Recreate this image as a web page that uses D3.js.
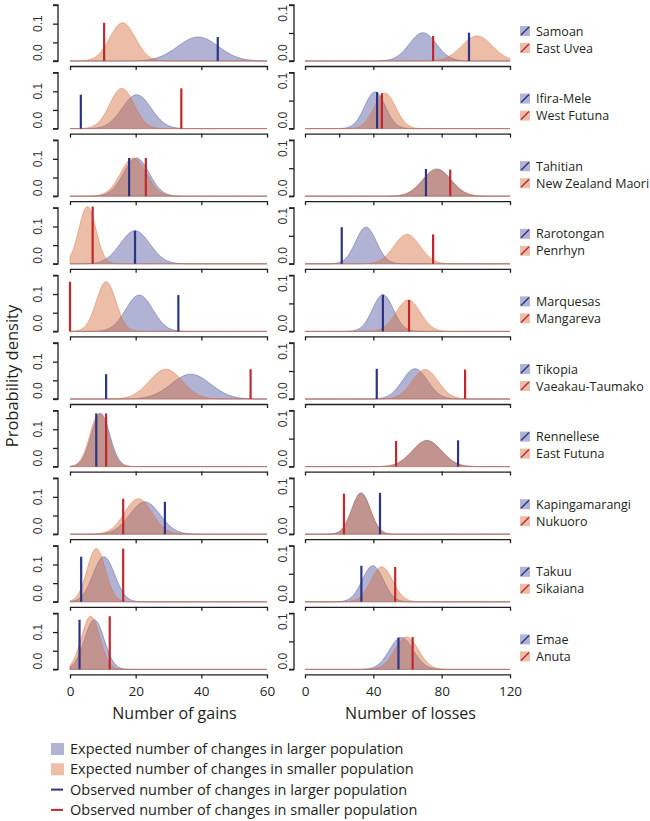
<!DOCTYPE html>
<html>
<head>
<meta charset="utf-8">
<script src="https://cdn.jsdelivr.net/npm/d3@7"></script>
<style>
  body { margin: 0; background: #fff; }
  .lab { font-family: "Open Sans", sans-serif; fill: #231f20; }
  .tick-lab { font-family: "Liberation Sans", Arial, sans-serif; fill: #333; }
</style>
</head>
<body>
<div id="chart"></div>
<script>
// language pairs: larger population first, smaller population second
var larger  = ["Samoan", "Ifira-Mele", "Tahitian", "Rarotongan", "Marquesas", "Tikopia", "Rennellese", "Kapingamarangi", "Takuu", "Emae"];
var smaller = ["East Uvea", "West Futuna", "New Zealand Maori", "Penrhyn", "Mangareva", "Vaeakau-Taumako", "East Futuna", "Nukuoro", "Sikaiana", "Anuta"];

// gains: expected distributions (mean, sd) and observed counts
var gainLargeMean = [39, 20.3, 20.2, 19.8, 21.1, 36.8, 9.3, 22.8, 10.3, 7.4];
var gainLargeSd   = [6.2, 4.4, 3.9, 4.5, 4.1, 6.0, 2.8, 4.6, 3.3, 3.0];
var gainSmallMean = [16, 15.8, 19.3, 5.3, 11, 29.2, 8.9, 20.8, 8.0, 6.3];
var gainSmallSd   = [3.9, 3.7, 3.9, 2.6, 3.0, 5.0, 2.8, 4.2, 2.8, 2.8];
var gainLargeObs  = [45, 3.3, 18, 19.8, 33, 11, 8, 28.9, 3.4, 2.9];
var gainSmallObs  = [10.4, 33.9, 23.1, 6.9, 0, 55, 11, 16.2, 16.2, 12.1];

// losses
var lossLargeMean = [69, 41, 77.2, 35.7, 45.6, 64.4, 71.4, 32.8, 39.7, 56.4];
var lossLargeSd   = [7.9, 6.1, 8.2, 6.1, 6.1, 7.4, 8.5, 5.4, 6.2, 7.0];
var lossSmallMean = [100.7, 46.8, 77.2, 59.7, 60.4, 70.3, 71.4, 32.8, 44.9, 59.5];
var lossSmallSd   = [8.9, 6.3, 8.4, 7.6, 7.1, 7.6, 8.7, 5.5, 6.4, 6.9];
var lossLargeObs  = [96, 42.2, 70.8, 21.5, 45.6, 42, 89.6, 43.9, 33, 54.7];
var lossSmallObs  = [75, 45, 85, 75, 60.9, 93.7, 53.3, 22.8, 52.8, 63];

// tick labels
var gainTicks = [0, 20, 40, 60];
var lossTicks = [0, 40, 80, 120];
var lossTicksFine = [0, 20, 40, 60, 80, 100, 120];
var densityTicksGain = [0, 0.05, 0.1, 0.15];
var densityTicksLoss = [0, 0.05, 0.1];

var legendLabels = [
  "Expected number of changes in larger population",
  "Expected number of changes in smaller population",
  "Observed number of changes in larger population",
  "Observed number of changes in smaller population"
];

// layout
var width = 650, height = 821;
var firstBase = 61, rowStep = 67.6, panelH = 56;

var blueFill = "rgba(60,65,150,0.40)",
    orangeFill = "rgba(215,110,60,0.45)",
    blueLine = "#2b3584",
    redLine = "#c1272d";

var svg = d3.select("#chart")
  .append("svg")
  .attr("width", width)
  .attr("height", height);

var xGain = d3.scaleLinear().domain([0, 60]).range([70, 267]);
var xLoss = d3.scaleLinear().domain([0, 120]).range([305, 510]);

// normal density sampled along the axis
function density(mean, sd, maxX) {
  return d3.range(0, maxX + 0.25, 0.25).map(function(v) {
    return [v, Math.exp(-0.5 * Math.pow((v - mean) / sd, 2)) / (sd * Math.sqrt(2 * Math.PI))];
  });
}

function drawPanel(i, x, yMax, yTicks, axisX, labelX, xTicks, largeMean, largeSd, smallMean, smallSd, largeObs, smallObs) {
  var base = firstBase + i * rowStep;
  var y = d3.scaleLinear().domain([0, yMax]).range([base, base - panelH]);
  var maxX = x.domain()[1];
  var g = svg.append("g");

  var area = d3.area()
    .x(function(d) { return x(d[0]); })
    .y0(y(0))
    .y1(function(d) { return y(d[1]); });

  var curves = [
    {pts: density(largeMean, largeSd, maxX), fill: blueFill},
    {pts: density(smallMean, smallSd, maxX), fill: orangeFill}
  ];

  g.selectAll("path.dens")
    .data(curves)
    .enter()
    .append("path")
    .attr("class", "dens")
    .attr("d", function(d) { return area(d.pts); })
    .attr("fill", function(d) { return d.fill; })
    .attr("stroke", function(d) { return d.fill; })
    .attr("stroke-width", 1);

  // observed values, drawn up to the peak of their own curve
  var obs = [
    {v: largeObs, top: d3.max(curves[0].pts, function(d) { return d[1]; }), col: blueLine},
    {v: smallObs, top: d3.max(curves[1].pts, function(d) { return d[1]; }), col: redLine}
  ];
  g.selectAll("line.obs")
    .data(obs)
    .enter()
    .append("line")
    .attr("class", "obs")
    .attr("x1", function(d) { return x(d.v); })
    .attr("x2", function(d) { return x(d.v); })
    .attr("y1", y(0))
    .attr("y2", function(d) { return y(d.top); })
    .attr("stroke", function(d) { return d.col; })
    .attr("stroke-width", 2.2);

  // y axis
  var yAxis = g.append("g")
    .attr("transform", "translate(" + axisX + ",0)")
    .call(d3.axisLeft(y).tickValues(yTicks).tickSize(5).tickFormat(""));
  yAxis.select(".domain").attr("d", "M-5," + y(0) + "H0V" + y(yMax) + "H-5");
  yAxis.selectAll("path, line").attr("stroke", "#231f20").attr("stroke-width", 1.3);

  g.append("text")
    .attr("class", "tick-lab")
    .attr("transform", "translate(" + labelX + "," + y(0) + ") rotate(-90)")
    .attr("text-anchor", "start")
    .style("font-size", "12px")
    .text("0.0");
  g.append("text")
    .attr("class", "tick-lab")
    .attr("transform", "translate(" + labelX + "," + y(0.1) + ") rotate(-90)")
    .attr("text-anchor", yMax > 0.1 ? "middle" : "end")
    .style("font-size", "12px")
    .text("0.1");

  // x axis
  var xAxis = g.append("g")
    .attr("transform", "translate(0," + (base + 5) + ")")
    .call(d3.axisBottom(x).tickValues(xTicks).tickSize(4).tickSizeOuter(0)
      .tickFormat(i === 9 ? d3.format("d") : ""));
  xAxis.selectAll("path, line").attr("stroke", "#231f20").attr("stroke-width", 1.3);
  xAxis.selectAll("text")
    .attr("class", "lab")
    .attr("dy", "1.1em")
    .style("font-size", "13.5px");
}

for (var i = 0; i < larger.length; i++) {
  drawPanel(i, xGain, 0.15, densityTicksGain, 58, 42, gainTicks,
    gainLargeMean[i], gainLargeSd[i], gainSmallMean[i], gainSmallSd[i], gainLargeObs[i], gainSmallObs[i]);
  drawPanel(i, xLoss, 0.1, densityTicksLoss, 294, 287, i === 1 ? lossTicksFine : lossTicks,
    lossLargeMean[i], lossLargeSd[i], lossSmallMean[i], lossSmallSd[i], lossLargeObs[i], lossSmallObs[i]);

  // pair legend
  var base = firstBase + i * rowStep;
  var pair = [
    {name: larger[i], fill: blueFill, col: blueLine, y: base - 30},
    {name: smaller[i], fill: orangeFill, col: redLine, y: base - 13}
  ];
  var lg = svg.append("g").selectAll("g")
    .data(pair)
    .enter()
    .append("g")
    .attr("transform", function(d) { return "translate(520," + d.y + ")"; });
  lg.append("rect")
    .attr("x", 0).attr("y", -5).attr("width", 10).attr("height", 10)
    .attr("fill", function(d) { return d.fill; });
  lg.append("line")
    .attr("x1", 1).attr("y1", 4).attr("x2", 9).attr("y2", -4)
    .attr("stroke", function(d) { return d.col; })
    .attr("stroke-width", 1.4);
  lg.append("text")
    .attr("class", "lab")
    .attr("x", 16)
    .attr("y", 4.5)
    .style("font-size", "12.5px")
    .text(function(d) { return d.name; });
}

// axis titles
svg.append("text")
  .attr("class", "lab")
  .attr("x", (xGain(0) + xGain(60)) / 2 + 6)
  .attr("y", 719)
  .attr("text-anchor", "middle")
  .style("font-size", "16px")
  .text("Number of gains");
svg.append("text")
  .attr("class", "lab")
  .attr("x", (xLoss(0) + xLoss(120)) / 2 + 3)
  .attr("y", 719)
  .attr("text-anchor", "middle")
  .style("font-size", "16px")
  .text("Number of losses");
svg.append("text")
  .attr("class", "lab")
  .attr("transform", "translate(18,376) rotate(-90)")
  .attr("text-anchor", "middle")
  .style("font-size", "16.5px")
  .text("Probability density");

// bottom legend
var leg = svg.append("g").selectAll("g")
  .data(legendLabels)
  .enter()
  .append("g")
  .attr("transform", function(d, k) { return "translate(51," + (749 + k * 20.3) + ")"; });
leg.filter(function(d, k) { return k < 2; })
  .append("rect")
  .attr("x", 0).attr("y", -6).attr("width", 13).attr("height", 12)
  .attr("fill", function(d, k) { return k === 0 ? blueFill : orangeFill; });
leg.filter(function(d, k) { return k >= 2; })
  .append("line")
  .attr("x1", 0).attr("x2", 12).attr("y1", 0).attr("y2", 0)
  .attr("stroke", function(d, k) { return k === 0 ? blueLine : redLine; })
  .attr("stroke-width", 2);
leg.append("text")
  .attr("class", "lab")
  .attr("x", 19)
  .attr("y", 5)
  .style("font-size", "14.5px")
  .text(function(d) { return d; });
</script>
</body>
</html>
